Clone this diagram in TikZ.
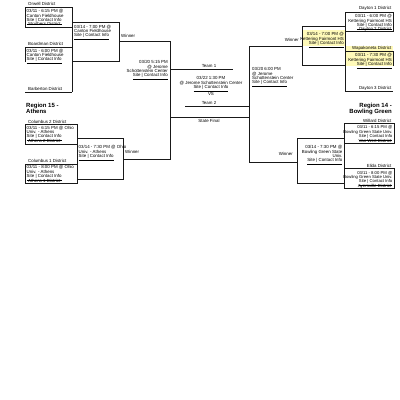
\documentclass[tikz,border=0pt]{standalone}
\usepackage{fontspec}
\setmainfont{Liberation Sans}
\definecolor{hl}{RGB}{255,250,185}
\definecolor{ink}{RGB}{25,25,25}
\tikzset{
  x=1pt, y=-1pt,
  ln/.style={draw=ink, line width=0.85pt},
  txt/.style={font=\fontsize{4.4}{4.3}\selectfont, inner sep=0pt, text=black},
  infoL/.style={txt, align=left, anchor=north west},
  infoR/.style={txt, align=right, anchor=north east},
  teamL/.style={txt, anchor=west},
  teamR/.style={txt, anchor=east},
  region/.style={font=\bfseries\fontsize{6}{6.8}\selectfont, inner sep=0pt, text=black},
}
\newcommand{\sci}{\underline{Site | Contact Info}}
\begin{document}
\begin{tikzpicture}
\useasboundingbox (0,0) rectangle (400,400);
\fill[white] (0,0) rectangle (400,400);
% highlights
\fill[hl] (346,45.5) rectangle (392.5,66);
\fill[hl] (302.5,30) rectangle (344.5,45.5);

% ---------- left top ----------
\draw[ln] (25,7) rectangle (72,27);
\draw[ln] (25,62) -- (25,47) -- (72,47);
\draw[ln] (25,92) -- (72,92);
\draw[ln] (72,7) -- (72,92);
\draw[ln] (72,22) rectangle (119,61);
\draw[ln] (119,41) -- (170,41) -- (170,159) -- (123,159);
\node[teamL] (t1) at (28,4) {Orwell District};
\node[infoL] (g1) at (26.5,9.4) {03/11 - 6:15 PM @\\Canton Fieldhouse\\\sci};
\node[teamL] (t2) at (28,24.2) {Struthers District};
\node[teamL] (t3) at (28,44) {Boardman District};
\node[infoL] (g2) at (26.5,48.9) {03/11 - 6:00 PM @\\Canton Fieldhouse\\\sci};
\node[teamL] (t4) at (28,89) {Barberton District};
\node[infoL] (g3) at (74,24.9) {03/14 - 7:00 PM @\\Canton Fieldhouse\\\sci};
\node[teamL] (w1) at (121,35.5) {Winner};
\node[infoR, align=right] (s1) at (168,60.4) {03/20 5:15 PM\\@ Jerome\\Schottenstein Center\\\sci};

% ---------- centre ----------
\draw[ln] (170,69) -- (233,69);
\draw[ln] (185,106) -- (249,106);
\draw[ln] (170,117) -- (249,117);
\node[txt] (tm1) at (209,66.3) {Team 1};
\node[txt, align=center, anchor=north, font=\fontsize{4.4}{4.6}\selectfont] (fin) at (211,76.4) {03/22 1:30 PM\\@ Jerome Schottenstein Center\\\sci\\VS};
\node[txt] (tm2) at (209,102.8) {Team 2};
\node[txt] (sf) at (209,120.5) {State Final};

% ---------- left bottom ----------
\node[region, align=left, anchor=north west] (r15) at (26,102.6) {Region 15 -\\Athens};
\draw[ln] (25,124.5) rectangle (77,144);
\draw[ln] (25,164) rectangle (77,183.5);
\draw[ln] (77,124.5) -- (77,183.5);
\draw[ln] (77,138.3) rectangle (123,179.3);
\node[teamL] (t5) at (28,121.5) {Columbus 2 District};
\node[infoL] (g4) at (26.5,125.9) {03/11 - 6:15 PM @ Ohio\\Univ. - Athens\\\sci};
\node[teamL] (t6) at (28,140.8) {Athens 2 District};
\node[teamL] (t7) at (28,160.7) {Columbus 1 District};
\node[infoL] (g5) at (26.5,165.6) {03/11 - 8:00 PM @ Ohio\\Univ. - Athens\\\sci};
\node[teamL] (t8) at (28,180.6) {Athens 1 District};
\node[infoL] (g6) at (78.5,145.4) {03/14 - 7:30 PM @ Ohio\\Univ. - Athens\\\sci};
\node[teamL] (w2) at (125,152) {Winner};

% ---------- right top ----------
\draw[ln] (249,46.7) -- (249,162.7);
\draw[ln] (249,46.7) -- (302,46.7);
\draw[ln] (249,162.7) -- (297,162.7);
\draw[ln] (302,26.7) rectangle (345,65.7);
\draw[ln] (345,12.7) rectangle (393,31.7);
\draw[ln] (345,51.7) -- (393,51.7) -- (393,66);
\draw[ln] (345,91.7) -- (393,91.7);
\draw[ln] (345,12.7) -- (345,91.7);
\node[teamR] (t9) at (391.5,8.5) {Dayton 1 District};
\node[infoR] (g7) at (392,14.4) {03/11 - 6:00 PM @\\Kettering Fairmont HS\\\sci};
\node[teamR] (t10) at (391.5,28.9) {Dayton 2 District};
\node[teamR] (t11) at (391.5,48.6) {Wapakoneta District};
\node[infoR] (g8) at (392,53.4) {03/11 - 7:30 PM @\\Kettering Fairmont HS\\\sci};
\node[teamR] (t12) at (391.5,88.7) {Dayton 3 District};
\node[infoR] (g9) at (344,32.4) {03/14 - 7:00 PM @\\Kettering Fairmont HS\\\sci};
\node[teamR] (w3) at (299,39.5) {Winner};
\node[infoL] (s2) at (252,67.4) {03/20 6:00 PM\\@ Jerome\\Schottenstein Center\\\sci};

% ---------- right bottom ----------
\node[region, align=right, anchor=north east] (r14) at (392,102.5) {Region 14 -\\Bowling Green};
\draw[ln] (344,123.3) rectangle (394,143.3);
\draw[ln] (344,168.7) rectangle (394,188.5);
\draw[ln] (344,123.3) -- (344,188.5);
\draw[ln] (297,138.3) rectangle (344,183);
\node[teamR] (t13) at (391.5,121) {Willard District};
\node[infoR, font=\fontsize{4.2}{4.3}\selectfont] (g10) at (392.5,125.7) {03/11 - 6:15 PM @\\Bowling Green State Univ.\\\sci};
\node[teamR] (t14) at (391.5,140.9) {Van Wert District};
\node[teamR] (t15) at (391.5,166) {Elida District};
\node[infoR, font=\fontsize{4.2}{4.3}\selectfont] (g11) at (392.5,171.1) {03/11 - 8:00 PM @\\Bowling Green State Univ.\\\sci};
\node[teamR] (t16) at (391.5,186.1) {Ayersville District};
\node[infoR] (g12) at (342.5,145.4) {03/14 - 7:30 PM @\\Bowling Green State\\Univ.\\\sci};
\node[teamR] (w4) at (293,153.5) {Winner};
\end{tikzpicture}
\end{document}
